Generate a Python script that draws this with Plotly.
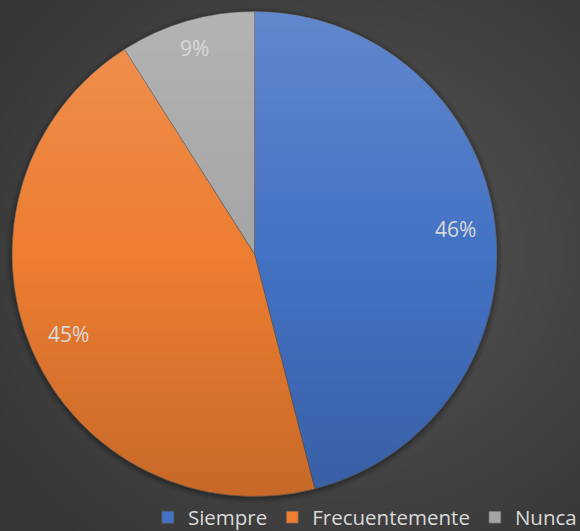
import base64, struct, zlib, math
import numpy as np
import plotly.graph_objects as go

labels = ["Siempre", "Frecuentemente", "Nunca"]
values = [46, 45, 9]
pct_labels = ["46%", "45%", "9%"]
colors = ["#4472c4", "#ed7d31", "#a5a5a5"]

W, H = 580, 531
# pie geometry in pixels
PX0, PX1 = 12, 497
PY0, PY1 = 11, 497
CX, CY = (PX0 + PX1) / 2, (PY0 + PY1) / 2
R = (PX1 - PX0) / 2


def to_png(rgba):
    h, w, _ = rgba.shape
    raw = b"".join(b"\x00" + rgba[i].tobytes() for i in range(h))
    def chunk(t, d):
        c = struct.pack(">I", len(d)) + t + d
        return c + struct.pack(">I", zlib.crc32(t + d) & 0xffffffff)
    png = b"\x89PNG\r\n\x1a\n"
    png += chunk(b"IHDR", struct.pack(">IIBBBBB", w, h, 8, 6, 0, 0, 0))
    png += chunk(b"IDAT", zlib.compress(raw, 9))
    png += chunk(b"IEND", b"")
    return "data:image/png;base64," + base64.b64encode(png).decode()


yy, xx = np.mgrid[0:H, 0:W].astype(float)
# radial background gradient
d = np.sqrt(((xx - 340) / 420) ** 2 + ((yy - 250) / 380) ** 2)
d = np.clip(d, 0, 1)
g = 0x56 - (0x56 - 0x36) * d
# soft shadow around pie
sd = np.sqrt((xx + 0.5 - CX) ** 2 + (yy + 0.5 - CY - 1.5) ** 2) - R
shadow = np.clip(1 - sd / 7, 0, 1) ** 1.5 * 0.3
g = g * (1 - shadow)
bg = np.zeros((H, W, 4), dtype=np.uint8)
bg[..., 0] = bg[..., 1] = bg[..., 2] = np.clip(g, 0, 255).astype(np.uint8)
bg[..., 3] = 255
bg_src = to_png(bg)

# vertical shading over pie
dist = np.sqrt((xx + 0.5 - CX) ** 2 + (yy + 0.5 - CY) ** 2)
mask = np.clip(R - dist + 0.5, 0, 1)
t = (yy - PY0) / (PY1 - PY0)
ov = np.zeros((H, W, 4), dtype=np.uint8)
light = t < 0.5
ov[..., 0] = np.where(light, 255, 0)
ov[..., 1] = ov[..., 0]
ov[..., 2] = ov[..., 0]
alpha = np.abs(t - 0.5) * 0.32 * mask
ov[..., 3] = (np.clip(alpha, 0, 1) * 255).astype(np.uint8)
ov_src = to_png(ov)

fig = go.Figure()
fig.add_trace(go.Pie(
    labels=labels, values=values, sort=False, direction="clockwise", rotation=0,
    marker=dict(colors=colors, line=dict(color="#5a5a5a", width=0.6)),
    textinfo="none", hoverinfo="skip",
    domain=dict(x=[PX0 / W, PX1 / W], y=[1 - PY1 / H, 1 - PY0 / H]),
))

# percentage labels placed along each slice's mid-angle
annotations = []
total = sum(values)
cum = 0
for v, txt in zip(values, pct_labels):
    mid = (cum + v / 2) / total * 2 * math.pi
    cum += v
    rr = R * (0.835 if v / total > 0.15 else 0.885)
    x = CX + rr * math.sin(mid)
    y = CY - rr * math.cos(mid)
    annotations.append(dict(x=x / W, y=1 - y / H, xref="paper", yref="paper",
                            xanchor="center", yanchor="middle",
                            text=txt, showarrow=False,
                            font=dict(size=21, color="#d9d9d9", family="Open Sans")))

fig.update_layout(
    width=W, height=H, margin=dict(l=0, r=0, t=0, b=0, autoexpand=False),
    paper_bgcolor="#404040", plot_bgcolor="#404040",
    images=[
        dict(source=bg_src, xref="paper", yref="paper", x=0, y=1, sizex=1, sizey=1,
             sizing="stretch", layer="below", xanchor="left", yanchor="top"),
        dict(source=ov_src, xref="paper", yref="paper", x=0, y=1, sizex=1, sizey=1,
             sizing="stretch", layer="above", xanchor="left", yanchor="top"),
    ],
    annotations=annotations,
    showlegend=True,
    legend=dict(orientation="h", x=0.255, xanchor="left", y=-0.012, yanchor="bottom",
                font=dict(size=20.5, color="#d9d9d9", family="Open Sans"),
                bgcolor="rgba(0,0,0,0)", traceorder="normal", itemclick=False),
)

fig.write_html("out.html", config={"displayModeBar": False},
               post_script="document.body.style.margin='0';document.body.style.overflow='hidden';")
